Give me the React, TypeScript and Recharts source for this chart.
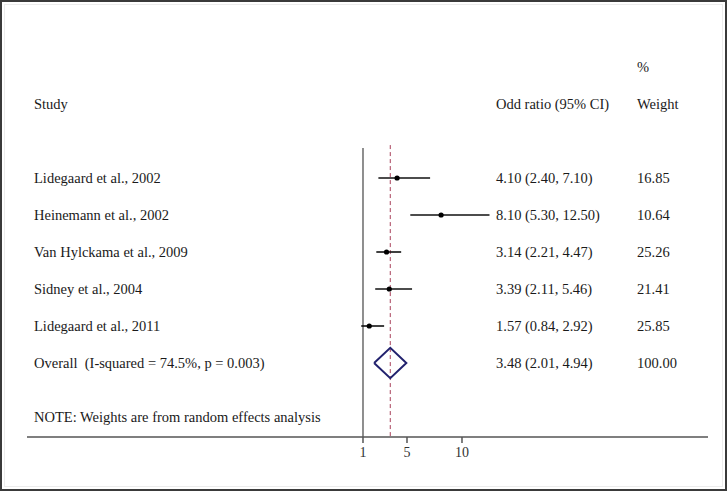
import {
  ScatterChart,
  Scatter,
  XAxis,
  YAxis,
  ErrorBar,
  ReferenceLine,
} from "recharts";

// Forest plot: odds ratios of the five studies and the random-effects pooled estimate.
const studies = [
  "Lidegaard et al., 2002",
  "Heinemann et al., 2002",
  "Van Hylckama et al., 2009",
  "Sidney et al., 2004",
  "Lidegaard et al., 2011",
];
const oddsRatio = [4.1, 8.1, 3.14, 3.39, 1.57];
const ciLow = [2.4, 5.3, 2.21, 2.11, 0.84];
const ciHigh = [7.1, 12.5, 4.47, 5.46, 2.92];
const weights = [16.85, 10.64, 25.26, 21.41, 25.85];

const overallLabel = "Overall  (I-squared = 74.5%, p = 0.003)";
const overallOR = 3.48;
const overallLow = 2.01;
const overallHigh = 4.94;
const overallWeight = 100.0;

const noteText = "NOTE: Weights are from random effects analysis";
const xTicks = [1, 5, 10];

const FONT = "'Liberation Serif', 'DejaVu Serif', serif";
const TEXT = "#1a1a1a";
const COL_STUDY = 34;
const COL_OR = 496;
const COL_WEIGHT = 637;

const fmtCI = (or: number, lo: number, hi: number) =>
  `${or.toFixed(2)} (${lo.toFixed(2)}, ${hi.toFixed(2)})`;

// one point per study row (row index on y)
const studyData = studies.map((name, i) => ({
  name,
  x: oddsRatio[i],
  y: i,
  err: [oddsRatio[i] - ciLow[i], ciHigh[i] - oddsRatio[i]],
}));

const overallRow = studies.length;

// diamond outline of the pooled estimate
const diamondData = [
  { x: overallLow, y: overallRow },
  { x: overallOR, y: overallRow - 0.41 },
  { x: overallHigh, y: overallRow },
  { x: overallOR, y: overallRow + 0.41 },
  { x: overallLow, y: overallRow },
];

// text rows of the table
const labelRows = [
  { x: 1, y: -3, study: "", or: "", weight: "%" },
  { x: 1, y: -2, study: "Study", or: "Odd ratio (95% CI)", weight: "Weight" },
  ...studies.map((name, i) => ({
    x: 1,
    y: i,
    study: name,
    or: fmtCI(oddsRatio[i], ciLow[i], ciHigh[i]),
    weight: weights[i].toFixed(2),
  })),
  {
    x: 1,
    y: overallRow,
    study: overallLabel,
    or: fmtCI(overallOR, overallLow, overallHigh),
    weight: overallWeight.toFixed(2),
  },
  { x: 1, y: 6.45, study: noteText, or: "", weight: "" },
];

function LabelShape(props: any) {
  const { cy, payload } = props;
  const common = {
    y: cy,
    dominantBaseline: "central" as const,
    fontFamily: FONT,
    fontSize: 14.5,
    fill: TEXT,
    style: { whiteSpace: "pre" as const },
  };
  return (
    <g>
      {payload.study && <text x={COL_STUDY} {...common}>{payload.study}</text>}
      {payload.or && <text x={COL_OR} {...common}>{payload.or}</text>}
      {payload.weight && <text x={COL_WEIGHT} {...common}>{payload.weight}</text>}
    </g>
  );
}

function DotShape(props: any) {
  return <circle cx={props.cx} cy={props.cy} r={2.6} fill="#000" />;
}

export default function App() {
  return (
    <div style={{ position: "absolute", left: 0, top: 0, width: 728, height: 492, background: "#fff" }}>
      <div
        style={{
          position: "absolute",
          left: 0,
          top: 0,
          width: 727,
          height: 491,
          boxSizing: "border-box",
          border: "2px solid #3a3a3a",
        }}
      />
      <div
        style={{
          position: "absolute",
          left: 4,
          top: 4,
          width: 719,
          height: 483,
          boxSizing: "border-box",
          border: "1px solid #ececec",
        }}
      />
      <div style={{ position: "absolute", left: 0, top: 0 }}>
        <ScatterChart width={728} height={492} margin={{ top: 30, right: 20, bottom: 25, left: 27 }}>
          <XAxis
            type="number"
            dataKey="x"
            domain={[-29.545, 32.364]}
            allowDataOverflow
            ticks={xTicks}
            interval={0}
            height={30}
            tickMargin={4}
            axisLine={{ stroke: "#555", strokeWidth: 1.5 }}
            tickLine={{ stroke: "#555", strokeWidth: 1.5 }}
            tick={{ fontFamily: FONT, fontSize: 14, fill: "#333" }}
          />
          <YAxis type="number" dataKey="y" domain={[-4, 7]} reversed hide allowDataOverflow />
          <ReferenceLine
            segment={[{ x: 1, y: -0.81 }, { x: 1, y: 7 }]}
            stroke="#444"
            strokeWidth={1.2}
          />
          <ReferenceLine
            segment={[{ x: overallOR, y: -0.89 }, { x: overallOR, y: 7 }]}
            stroke="#a8405a"
            strokeWidth={1}
            strokeDasharray="4 3"
          />
          <Scatter data={labelRows} shape={LabelShape} isAnimationActive={false} />
          <Scatter data={studyData} shape={DotShape} isAnimationActive={false}>
            <ErrorBar dataKey="err" direction="x" width={0} stroke="#111" strokeWidth={1.6} />
          </Scatter>
          <Scatter
            data={diamondData}
            line={{ stroke: "#22226e", strokeWidth: 2 }}
            lineType="joint"
            stroke="#22226e"
            shape={() => <g />}
            isAnimationActive={false}
          />
        </ScatterChart>
      </div>
    </div>
  );
}
